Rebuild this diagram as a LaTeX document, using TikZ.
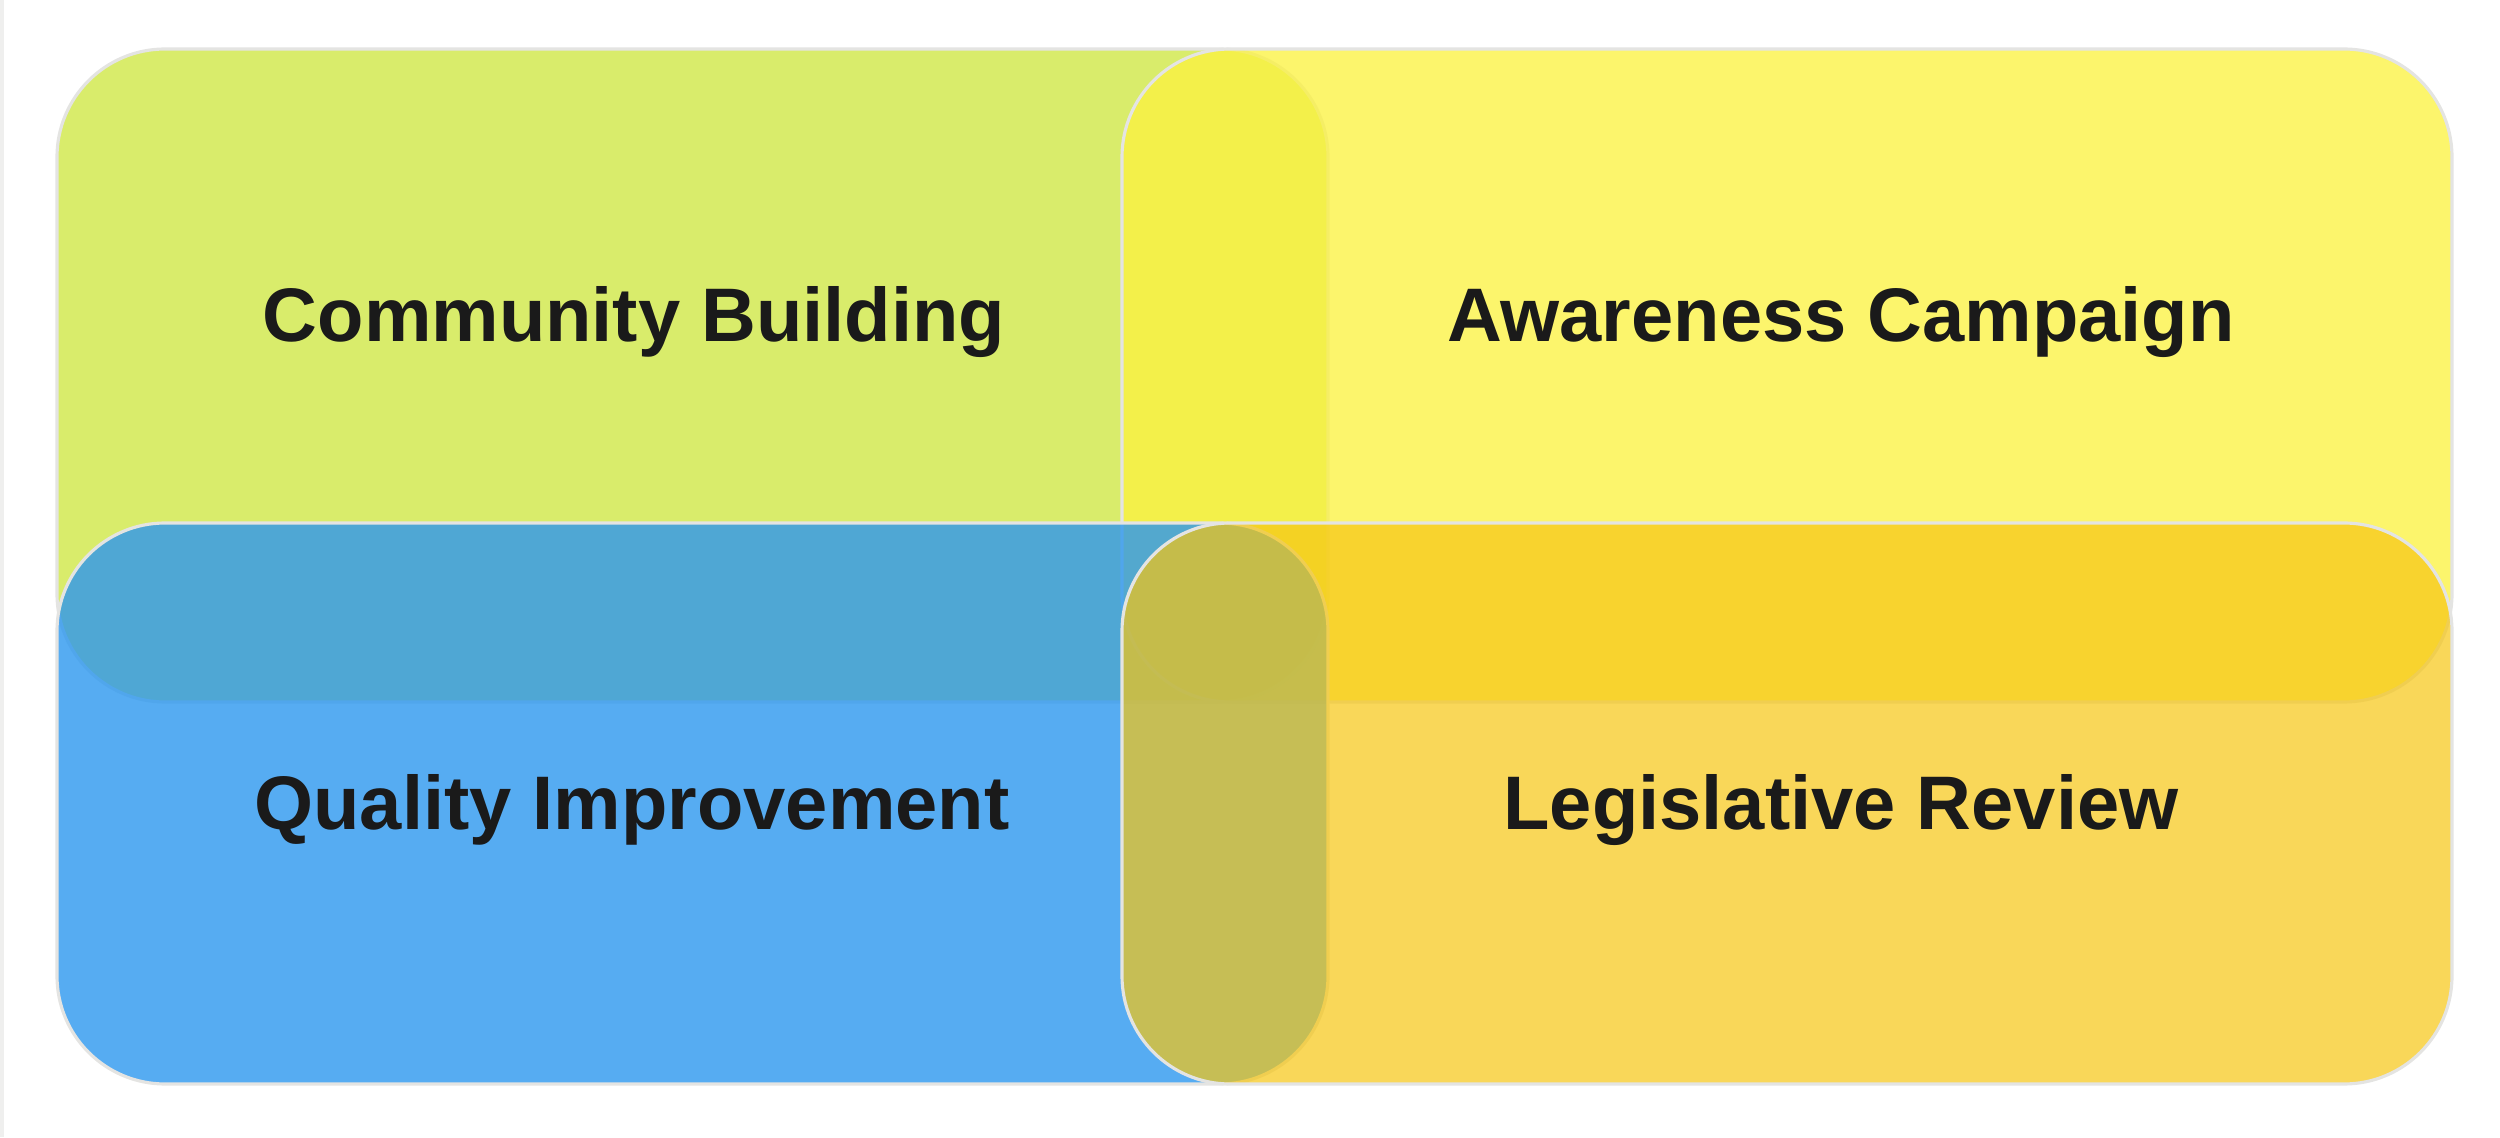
\documentclass[tikz,border=0pt]{standalone}
\usepackage{fontspec}
\setmainfont{Liberation Sans}
\usepackage{xcolor}
\definecolor{lime}{HTML}{CEE63F}
\definecolor{lemon}{HTML}{FBF240}
\definecolor{sky}{HTML}{2C97EF}
\definecolor{gold}{HTML}{F6C613}
\definecolor{edge}{HTML}{E4E4E2}
\definecolor{ink}{HTML}{1A1A1A}
\usepackage{tikz}
\usetikzlibrary{positioning}
\tikzset{
  zone/.style={draw=edge,line width=0.9pt,rounded corners=10.8mm,inner sep=0pt},
  topzone/.style={zone,minimum height=65.3mm},
  lowzone/.style={zone,minimum height=56.1mm},
  lab/.style={font=\fontsize{21.6}{26}\selectfont\bfseries,text=ink},
}
\begin{document}
\begin{tikzpicture}[x=1mm,y=1mm]
\useasboundingbox (0,0) rectangle (250,113.7);
\fill[edge!60] (0,0) rectangle (0.35,113.7);
% four overlapping areas
\node[topzone,minimum width=127.1mm,fill=lime,fill opacity=0.77] (cb) at (69.25,76.15) {};
\node[topzone,minimum width=133mm,fill=lemon,fill opacity=0.77] (ac) at (178.7,76.15) {};
\node[lowzone,minimum width=127.1mm,fill=sky,fill opacity=0.8] (qi) at (69.25,33.35) {};
\node[lowzone,minimum width=133mm,fill=gold,fill opacity=0.7] (lr) at (178.7,33.35) {};
% titles
\node[lab] (cbt) at (63.4,81.5) {Community Building};
\node[lab] (act) at (184.1,81.5) {Awareness Campaign};
\node[lab] (qit) at (63.2,32.7) {Quality Improvement};
\node[lab] (lrt) at (184.1,32.7) {Legislative Review};
\end{tikzpicture}
\end{document}
